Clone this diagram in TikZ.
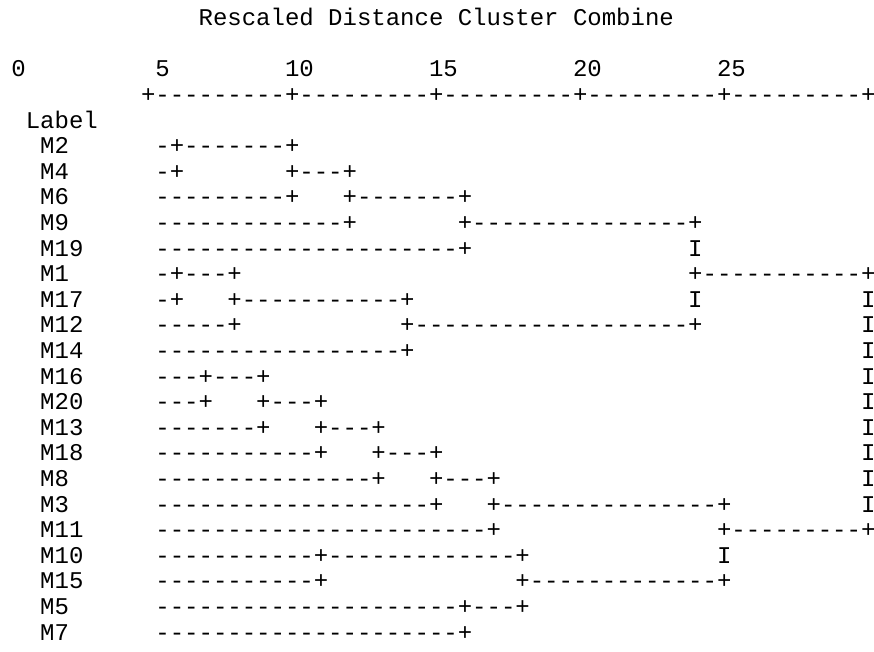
\documentclass[tikz,border=0pt]{standalone}
\usepackage{fontspec}
\newfontfamily\monofam{Liberation Mono}
\ExplSyntaxOn
\NewDocumentCommand\dashes{m}{\prg_replicate:nn{#1}{-}}
\ExplSyntaxOff
\tikzset{
  txt/.style={inner sep=0pt, outer sep=0pt, anchor=base west,
    font=\monofam\fontsize{24}{25.6}\selectfont, text=black},
}
% segment: name, column, row, text
\newcommand\seg[4]{\node[txt] (#1) at ({11.4+14.4*#2},{25.7+25.6*#3}) {#4};}
\begin{document}
\begin{tikzpicture}[x=1pt,y=-1pt]
\useasboundingbox (0,0) rectangle (874,652);
% title
\seg{title}{13}{0}{Rescaled Distance Cluster Combine}
% scale numbers
\seg{n0}{0}{2}{0}
\seg{n5}{10}{2}{5}
\seg{n10}{19}{2}{10}
\seg{n15}{29}{2}{15}
\seg{n20}{39}{2}{20}
\seg{n25}{49}{2}{25}
% axis
\seg{axis}{9}{3}{+\dashes{9}+\dashes{9}+\dashes{9}+\dashes{9}+\dashes{9}+}
\seg{label}{1}{4}{Label}
% labels
\seg{lM2}{2}{5}{M2}
\seg{lM4}{2}{6}{M4}
\seg{lM6}{2}{7}{M6}
\seg{lM9}{2}{8}{M9}
\seg{lM19}{2}{9}{M19}
\seg{lM1}{2}{10}{M1}
\seg{lM17}{2}{11}{M17}
\seg{lM12}{2}{12}{M12}
\seg{lM14}{2}{13}{M14}
\seg{lM16}{2}{14}{M16}
\seg{lM20}{2}{15}{M20}
\seg{lM13}{2}{16}{M13}
\seg{lM18}{2}{17}{M18}
\seg{lM8}{2}{18}{M8}
\seg{lM3}{2}{19}{M3}
\seg{lM11}{2}{20}{M11}
\seg{lM10}{2}{21}{M10}
\seg{lM15}{2}{22}{M15}
\seg{lM5}{2}{23}{M5}
\seg{lM7}{2}{24}{M7}
% dendrogram
\seg{a2}{10}{5}{-+\dashes{7}+}
\seg{a4}{10}{6}{-+}
\seg{b4}{19}{6}{+\dashes{3}+}
\seg{a6}{10}{7}{\dashes{9}+}
\seg{b6}{23}{7}{+\dashes{7}+}
\seg{a9}{10}{8}{\dashes{13}+}
\seg{b9}{31}{8}{+\dashes{15}+}
\seg{a19}{10}{9}{\dashes{21}+}
\seg{b19}{47}{9}{I}
\seg{a1}{10}{10}{-+\dashes{3}+}
\seg{b1}{47}{10}{+\dashes{11}+}
\seg{a17}{10}{11}{-+}
\seg{b17}{15}{11}{+\dashes{11}+}
\seg{c17}{47}{11}{I}
\seg{d17}{59}{11}{I}
\seg{a12}{10}{12}{\dashes{5}+}
\seg{b12}{27}{12}{+\dashes{19}+}
\seg{c12}{59}{12}{I}
\seg{a14}{10}{13}{\dashes{17}+}
\seg{c14}{59}{13}{I}
\seg{a16}{10}{14}{\dashes{3}+\dashes{3}+}
\seg{c16}{59}{14}{I}
\seg{a20}{10}{15}{\dashes{3}+}
\seg{b20}{17}{15}{+\dashes{3}+}
\seg{c20}{59}{15}{I}
\seg{a13}{10}{16}{\dashes{7}+}
\seg{b13}{21}{16}{+\dashes{3}+}
\seg{c13}{59}{16}{I}
\seg{a18}{10}{17}{\dashes{11}+}
\seg{b18}{25}{17}{+\dashes{3}+}
\seg{c18}{59}{17}{I}
\seg{a8}{10}{18}{\dashes{15}+}
\seg{b8}{29}{18}{+\dashes{3}+}
\seg{c8}{59}{18}{I}
\seg{a3}{10}{19}{\dashes{19}+}
\seg{b3}{33}{19}{+\dashes{15}+}
\seg{c3}{59}{19}{I}
\seg{a11}{10}{20}{\dashes{23}+}
\seg{b11}{49}{20}{+\dashes{9}+}
\seg{a10}{10}{21}{\dashes{11}+\dashes{13}+}
\seg{b10}{49}{21}{I}
\seg{a15}{10}{22}{\dashes{11}+}
\seg{b15}{35}{22}{+\dashes{13}+}
\seg{a5}{10}{23}{\dashes{21}+\dashes{3}+}
\seg{a7}{10}{24}{\dashes{21}+}
\end{tikzpicture}
\end{document}
